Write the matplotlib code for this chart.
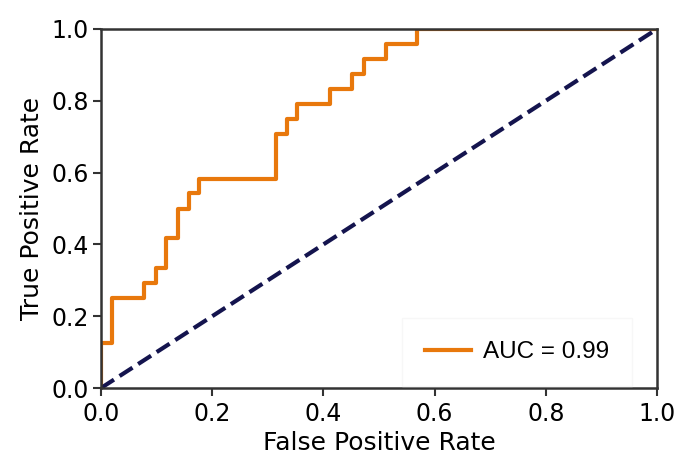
import matplotlib
matplotlib.use("Agg")
import matplotlib.pyplot as plt

# ROC step points
fpr = [0.0, 0.0, 0.020, 0.020, 0.078, 0.078, 0.099, 0.099, 0.117, 0.117,
       0.138, 0.138, 0.159, 0.159, 0.177, 0.177, 0.314, 0.314, 0.335, 0.335,
       0.353, 0.353, 0.412, 0.412, 0.452, 0.452, 0.473, 0.473, 0.513, 0.513,
       0.568, 0.568, 1.0]
tpr = [0.0, 0.125, 0.125, 0.25, 0.25, 0.292, 0.292, 0.333, 0.333, 0.417,
       0.417, 0.5, 0.5, 0.542, 0.542, 0.583, 0.583, 0.708, 0.708, 0.75,
       0.75, 0.792, 0.792, 0.833, 0.833, 0.875, 0.875, 0.917, 0.917, 0.958,
       0.958, 1.0, 1.0]
diag = [0.0, 1.0]
auc_label = "AUC = 0.99"
ticks = [0.0, 0.2, 0.4, 0.6, 0.8, 1.0]

fig = plt.figure(figsize=(6.89, 4.58), dpi=100)
ax = fig.add_axes([0.1466, 0.1528, 0.8070, 0.7839])

ax.plot(fpr, tpr, color="#e8780c", lw=3, label=auc_label)
ax.plot(diag, diag, color="#14144e", lw=3, linestyle="--")

ax.set_xlim(0, 1)
ax.set_ylim(0, 1.0)
ax.set_xticks(ticks)
ax.set_yticks(ticks)
ax.set_xticklabels([f"{t:.1f}" for t in ticks])
ax.set_yticklabels([f"{t:.1f}" for t in ticks])
ax.tick_params(labelsize=17, width=1.5, length=6, pad=3, color="#333333")
ax.tick_params(axis="x", pad=4)
for s in ax.spines.values():
    s.set_linewidth(1.8)
    s.set_color("#333333")

ax.set_xlabel("False Positive Rate", fontsize=18, labelpad=4)
ax.set_ylabel("True Positive Rate", fontsize=18, labelpad=5)

leg = ax.legend(loc="center left", bbox_to_anchor=(0.541, 0.100),
                borderaxespad=0, prop={"family": "Liberation Sans", "size": 17.5},
                frameon=True, handlelength=1.9, handletextpad=0.5,
                borderpad=0.95, fancybox=False)
leg.get_frame().set_edgecolor("#f5f5f5")
leg.get_frame().set_linewidth(1.0)

fig.savefig("out.png", dpi=100)
